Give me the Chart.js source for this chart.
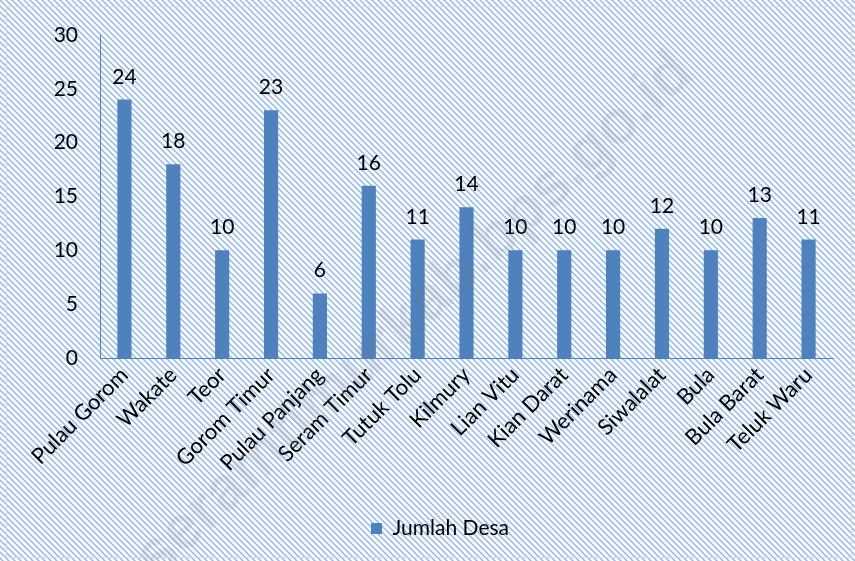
<!DOCTYPE html>
<html>
<head>
<meta charset="utf-8">
<script src="https://cdn.jsdelivr.net/npm/chart.js@4"></script>
<style>
  html, body { margin: 0; padding: 0; background: #fff; }
  #wrap { width: 855px; height: 561px; position: relative; }
</style>
</head>
<body>
<div id="wrap"><canvas id="chart" width="855" height="561"></canvas></div>
<script>
// ------------------------------------------------------------
// Data
// ------------------------------------------------------------
const kecamatan = ['Pulau Gorom', 'Wakate', 'Teor', 'Gorom Timur', 'Pulau Panjang',
  'Seram Timur', 'Tutuk Tolu', 'Kilmury', 'Lian Vitu', 'Kian Darat', 'Werinama',
  'Siwalalat', 'Bula', 'Bula Barat', 'Teluk Waru'];
const jumlahDesa = [24, 18, 10, 23, 6, 16, 11, 14, 10, 10, 10, 12, 10, 13, 11];
const yTicks = [0, 5, 10, 15, 20, 25, 30];

const BAR_BLUE = '#4f81bd';
const FONT = 'Lato, "Open Sans", sans-serif';

// diagonal hatch like the Excel chart background
function makeHatch(ctx) {
  const c = document.createElement('canvas');
  c.width = 6; c.height = 6;
  const g = c.getContext('2d');
  g.fillStyle = '#fff';
  g.fillRect(0, 0, 6, 6);
  g.strokeStyle = '#9fbfe8';
  g.lineWidth = 1.6;
  g.beginPath();
  g.moveTo(-1, -1); g.lineTo(7, 7);
  g.moveTo(-7, -1); g.lineTo(1, 7);
  g.moveTo(5, -1); g.lineTo(13, 7);
  g.stroke();
  return ctx.createPattern(c, 'repeat');
}

const backgroundPlugin = {
  id: 'hatchBg',
  beforeDraw(chart) {
    const ctx = chart.ctx;
    ctx.save();
    ctx.fillStyle = makeHatch(ctx);
    ctx.fillRect(0, 0, chart.width, chart.height);
    ctx.strokeStyle = '#d9d9d9';
    ctx.lineWidth = 1;
    ctx.strokeRect(6.5, 6.5, chart.width - 10, chart.height - 10);
    ctx.restore();
  }
};

// value labels above bars
const valueLabels = {
  id: 'valueLabels',
  afterDatasetsDraw(chart) {
    const ctx = chart.ctx;
    const meta = chart.getDatasetMeta(0);
    ctx.save();
    ctx.font = '21px ' + FONT;
    ctx.fillStyle = '#000';
    ctx.textAlign = 'center';
    ctx.textBaseline = 'alphabetic';
    meta.data.forEach((bar, i) => {
      ctx.fillText(String(jumlahDesa[i]), bar.x, bar.y - 16);
    });
    ctx.restore();
  }
};

// faint site watermark
const watermark = {
  id: 'watermark',
  afterDraw(chart) {
    const ctx = chart.ctx;
    ctx.save();
    ctx.translate(415, 315);
    ctx.rotate(-43 * Math.PI / 180);
    ctx.font = 'bold 62px "Liberation Sans", Arial, sans-serif';
    ctx.fillStyle = 'rgba(120,120,120,0.14)';
    ctx.textAlign = 'center';
    ctx.textBaseline = 'middle';
    ctx.fillText('seramtimurkab.bps.go.id', 0, 0);
    ctx.restore();
  }
};

new Chart(document.getElementById('chart'), {
  type: 'bar',
  data: {
    labels: kecamatan,
    datasets: [{
      label: 'Jumlah Desa',
      data: jumlahDesa,
      backgroundColor: BAR_BLUE,
      borderWidth: 0,
      barPercentage: 0.29,
      categoryPercentage: 1.0,
    }],
  },
  options: {
    responsive: false,
    animation: false,
    // left padding is wide so the legend sits a bit right of centre, as in the original
    layout: { padding: { left: 47, right: 22, top: 35, bottom: 12 } },
    plugins: {
      legend: {
        position: 'bottom',
        labels: {
          color: '#000',
          font: { size: 21, family: FONT },
          boxWidth: 11,
          boxHeight: 11,
          padding: 10,
        },
      },
      tooltip: { enabled: false },
    },
    scales: {
      x: {
        grid: { display: false, drawTicks: false },
        border: { display: true, color: BAR_BLUE, width: 1 },
        ticks: {
          color: '#000',
          font: { size: 22, family: FONT },
          minRotation: 45,
          maxRotation: 45,
          padding: 4,
          autoSkip: false,
        },
        afterFit(scale) { scale.height = 150; },
      },
      y: {
        min: 0,
        max: 30,
        afterBuildTicks(scale) { scale.ticks = yTicks.map(v => ({ value: v })); },
        grid: { display: false, drawTicks: false },
        border: { display: true, color: BAR_BLUE, width: 1 },
        ticks: {
          color: '#000',
          font: { size: 21, family: FONT },
          padding: 22,
        },
        afterFit(scale) { scale.width = 53; },
      },
    },
  },
  plugins: [backgroundPlugin, valueLabels, watermark],
});
</script>
</body>
</html>
